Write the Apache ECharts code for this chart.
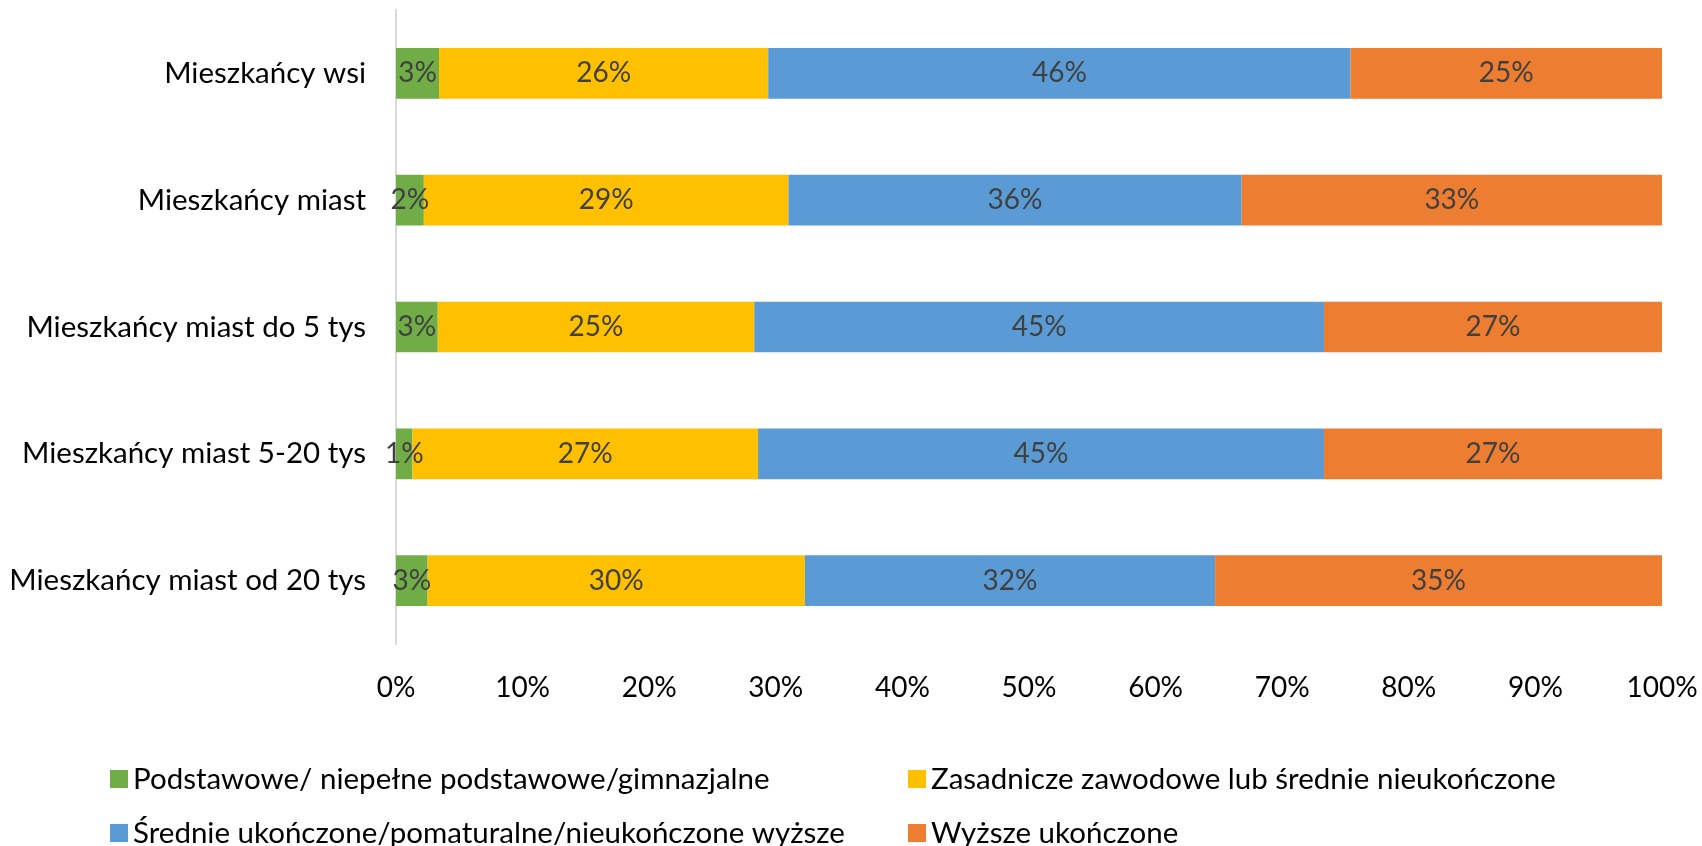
<!DOCTYPE html>
<html>
<head>
<meta charset="utf-8">
<script src="https://cdn.jsdelivr.net/npm/echarts@6/dist/echarts.min.js"></script>
<style>
  html, body { margin: 0; padding: 0; background: #fff; }
  #chart { width: 1702px; height: 846px; }
</style>
</head>
<body>
<div id="chart"></div>
<script>
var categories = ['Mieszkańcy wsi', 'Mieszkańcy miast', 'Mieszkańcy miast do 5 tys', 'Mieszkańcy miast 5-20 tys', 'Mieszkańcy miast od 20 tys']
var seriesNames = [
  'Podstawowe/ niepełne podstawowe/gimnazjalne',
  'Zasadnicze zawodowe lub średnie nieukończone',
  'Średnie ukończone/pomaturalne/nieukończone wyższe',
  'Wyższe ukończone'
]
var podstawowe = [3.4, 2.2, 3.3, 1.3, 2.5]
var zasadnicze = [26.0, 28.8, 25.0, 27.3, 29.8]
var srednie = [46.0, 35.8, 45.0, 44.7, 32.4]
var wyzsze = [24.6, 33.2, 26.7, 26.7, 35.3]
var colors = ['#70AD47', '#FFC000', '#5B9BD5', '#ED7D31']

var font = 'Lato'
var myChart = echarts.init(document.getElementById('chart'))

function makeSeries(name, data, color) {
  return {
    name: name,
    type: 'bar',
    stack: 'total',
    barCategoryGap: '60%',
    data: data,
    itemStyle: { color: color },
    label: {
      show: true,
      position: 'inside',
      color: '#404040',
      fontFamily: font,
      fontSize: 28,
      formatter: function (p) { return Math.round(p.value) + '%' }
    }
  }
}

// one legend per item so the two columns line up like in the original
function makeLegend(name, left, top) {
  return {
    left: left,
    top: top,
    itemWidth: 18,
    itemHeight: 18,
    itemGap: 0,
    icon: 'rect',
    textStyle: { color: '#000', fontFamily: font, fontSize: 29.5 },
    data: [name]
  }
}

var option = {
  animation: false,
  legend: [
    makeLegend(seriesNames[0], 105, 759),
    makeLegend(seriesNames[1], 903, 759),
    makeLegend(seriesNames[2], 105, 813),
    makeLegend(seriesNames[3], 903, 813)
  ],
  grid: {
    left: 396,
    right: 40,
    top: 10,
    height: 634
  },
  xAxis: {
    type: 'value',
    min: 0,
    max: 100,
    interval: 10,
    axisLine: { show: false },
    axisTick: { show: false },
    splitLine: { show: false },
    axisLabel: {
      color: '#000',
      fontFamily: font,
      fontSize: 28,
      margin: 30,
      formatter: '{value}%'
    }
  },
  yAxis: {
    type: 'category',
    inverse: true,
    data: categories,
    axisLine: { show: true, lineStyle: { color: '#d9d9d9', width: 2 } },
    axisTick: { show: false },
    axisLabel: {
      color: '#000',
      fontFamily: font,
      fontSize: 29.5,
      margin: 30
    }
  },
  series: [
    makeSeries(seriesNames[0], podstawowe, colors[0]),
    makeSeries(seriesNames[1], zasadnicze, colors[1]),
    makeSeries(seriesNames[2], srednie, colors[2]),
    makeSeries(seriesNames[3], wyzsze, colors[3])
  ]
}
option && myChart.setOption(option)
window.addEventListener('resize', myChart.resize)
</script>
</body>
</html>
